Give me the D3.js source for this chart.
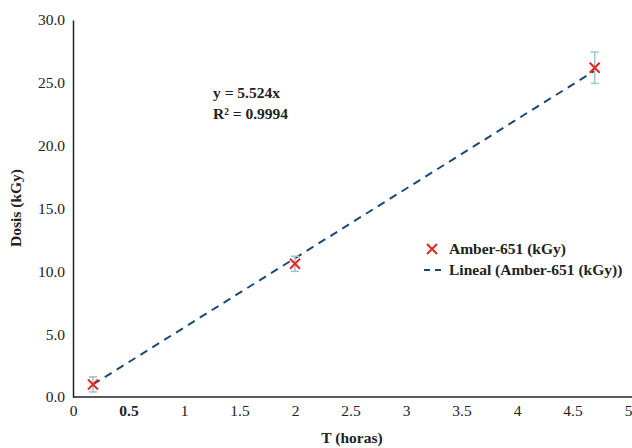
<!DOCTYPE html>
<html>
<head>
<meta charset="utf-8">
<script src="https://cdn.jsdelivr.net/npm/d3@7"></script>
<style>
  body { margin: 0; background: #fff; }
  text { font-family: "Liberation Serif", "DejaVu Serif", serif; fill: #222; }
</style>
</head>
<body>
<div id="chart"></div>
<script>
// data
var horas = [0.18, 2.0, 4.7];
var dosis = [1.0, 10.6, 26.2];
var errores = [0.6, 0.6, 1.25];
var pendiente = 5.524;
var xTicks = [0, 0.5, 1, 1.5, 2, 2.5, 3, 3.5, 4, 4.5, 5];
var yTicks = [0, 5, 10, 15, 20, 25, 30];

var width = 632, height = 448;
var margin = {top: 20, right: 4, bottom: 51, left: 73};
var fs = "15.5px";

var svg = d3.select("#chart").append("svg")
    .attr("width", width)
    .attr("height", height);

var x = d3.scaleLinear().domain([0, 5]).range([margin.left, 628]);
var y = d3.scaleLinear().domain([0, 30]).range([height - margin.bottom, margin.top]);

// axes
var xAxis = svg.append("g")
    .attr("transform", "translate(0," + y(0) + ")")
    .call(d3.axisBottom(x).tickValues(xTicks).tickSize(0).tickPadding(8)
        .tickFormat(function(d) { return d3.format("")(d); }));
xAxis.select(".domain").remove();
xAxis.append("line")
    .attr("x1", x(0)).attr("x2", width)
    .attr("stroke", "#222").attr("stroke-width", 1.5);
xAxis.selectAll(".tick text")
    .style("font-size", fs)
    .style("font-weight", function(d) { return d == 0.5 ? "bold" : "normal"; });

var yAxis = svg.append("g")
    .attr("transform", "translate(" + x(0) + ",0)")
    .call(d3.axisLeft(y).tickValues(yTicks).tickSize(0).tickPadding(8)
        .tickFormat(d3.format(".1f")));
yAxis.select(".domain").attr("stroke", "#222").attr("stroke-width", 1.5);
yAxis.selectAll(".tick text").style("font-size", fs);

// axis titles
svg.append("text")
    .attr("x", 352).attr("y", 443)
    .attr("text-anchor", "middle")
    .style("font-size", fs).style("font-weight", "bold")
    .text("T (horas)");

svg.append("text")
    .attr("transform", "translate(21," + 208 + ") rotate(-90)")
    .attr("text-anchor", "middle")
    .style("font-size", fs).style("font-weight", "bold")
    .text("Dosis (kGy)");

// trend line
var xs = d3.extent(horas);
svg.append("line")
    .attr("x1", x(xs[0])).attr("y1", y(pendiente * xs[0]))
    .attr("x2", x(xs[1])).attr("y2", y(pendiente * xs[1]))
    .attr("stroke", "#1b4a73").attr("stroke-width", 2)
    .attr("stroke-dasharray", "8,6");

// error bars
var points = horas.map(function(h, i) { return {x: h, y: dosis[i], e: errores[i]}; });
var eb = svg.append("g").attr("stroke", "#9cc3cf").attr("stroke-width", 1.5);
points.forEach(function(d) {
    eb.append("line")
        .attr("x1", x(d.x)).attr("x2", x(d.x))
        .attr("y1", y(d.y - d.e)).attr("y2", y(d.y + d.e));
    [d.y - d.e, d.y + d.e].forEach(function(v) {
        eb.append("line")
            .attr("x1", x(d.x) - 4).attr("x2", x(d.x) + 4)
            .attr("y1", y(v)).attr("y2", y(v));
    });
});

// markers
function cross(g, cx, cy, s) {
    g.append("path")
        .attr("d", "M" + (cx - s) + "," + (cy - s) + "L" + (cx + s) + "," + (cy + s) +
                   "M" + (cx - s) + "," + (cy + s) + "L" + (cx + s) + "," + (cy - s))
        .attr("stroke", "#e8251f").attr("stroke-width", 2).attr("fill", "none");
}
var mk = svg.append("g");
points.forEach(function(d) { cross(mk, x(d.x), y(d.y), 5); });

// equation
svg.append("text")
    .attr("x", 213).attr("y", 98)
    .style("font-size", fs).style("font-weight", "bold")
    .text("y = 5.524x");
svg.append("text")
    .attr("x", 213).attr("y", 119)
    .style("font-size", fs).style("font-weight", "bold")
    .text("R² = 0.9994");

// legend
var lg = svg.append("g");
cross(lg, 432, 249, 5);
lg.append("text")
    .attr("x", 449).attr("y", 254)
    .style("font-size", fs).style("font-weight", "bold")
    .text("Amber-651 (kGy)");
lg.append("line")
    .attr("x1", 424).attr("x2", 441).attr("y1", 270).attr("y2", 270)
    .attr("stroke", "#1b4a73").attr("stroke-width", 2)
    .attr("stroke-dasharray", "6,5");
lg.append("text")
    .attr("x", 449).attr("y", 275)
    .style("font-size", fs).style("font-weight", "bold")
    .text("Lineal (Amber-651 (kGy))");
</script>
</body>
</html>
